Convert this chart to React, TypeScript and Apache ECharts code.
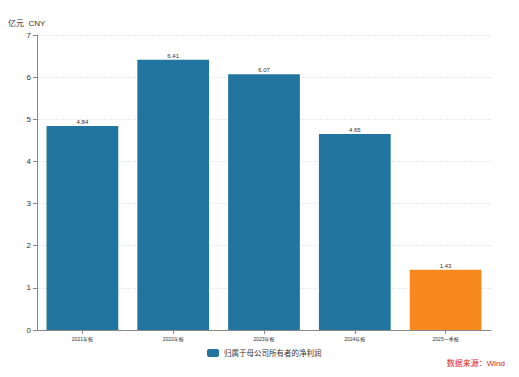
import React, { useEffect, useRef } from "react";
import * as echarts from "echarts";

const categories = ["2021年报", "2022年报", "2023年报", "2024年报", "2025一季报"];
const values = [4.84, 6.41, 6.07, 4.65, 1.43];
const barColors = ["#21759f", "#21759f", "#21759f", "#21759f", "#f7891e"];
const seriesName = "归属于母公司所有者的净利润";
const FONT = "'Liberation Sans', 'Noto Sans CJK SC', sans-serif";

export default function App() {
  const ref = useRef<HTMLDivElement>(null);
  useEffect(() => {
    const chart = echarts.init(ref.current!, null, { renderer: "svg" });
    chart.setOption({
      animation: false,
      textStyle: { fontFamily: FONT },
      grid: { left: 37, right: 28, top: 35, bottom: 47 },
      legend: {
        top: 344,
        left: 202,
        itemWidth: 12,
        itemHeight: 8,
        itemGap: 5,
        textStyle: { fontSize: 7.5, color: "#333", fontFamily: FONT },
        data: [{ name: seriesName, itemStyle: { color: "#21759f" } }],
      },
      graphic: [
        {
          type: "text",
          left: 8,
          top: 19,
          style: { text: "亿元  CNY", fontSize: 8, fill: "#333", fontFamily: FONT },
        },
        {
          type: "text",
          right: 14,
          top: 359,
          style: { text: "数据来源：Wind", fontSize: 8, fill: "#e02020", fontFamily: FONT },
        },
      ],
      xAxis: {
        type: "category",
        data: categories,
        axisLine: { show: true, lineStyle: { color: "#888" } },
        axisTick: { show: true, alignWithLabel: true, length: 4, lineStyle: { color: "#888" } },
        axisLabel: { fontSize: 5, color: "#333", margin: 6 },
      },
      yAxis: {
        type: "value",
        min: 0,
        max: 7,
        interval: 1,
        axisLine: { show: true, lineStyle: { color: "#888" } },
        axisTick: { show: true, length: 4, lineStyle: { color: "#888" } },
        axisLabel: { fontSize: 8, color: "#333", margin: 6 },
        splitLine: { show: true, lineStyle: { color: "#ebebeb", type: "dashed" } },
      },
      series: [
        {
          name: seriesName,
          type: "bar",
          barWidth: "79%",
          data: values.map((v, i) => ({ value: v, itemStyle: { color: barColors[i] } })),
          label: { show: true, position: "top", distance: 1, fontSize: 6, color: "#333" },
        },
      ],
    });
    return () => chart.dispose();
  }, []);
  return <div ref={ref} style={{ width: 519, height: 377, position: "absolute", left: 0, top: 0 }} />;
}
